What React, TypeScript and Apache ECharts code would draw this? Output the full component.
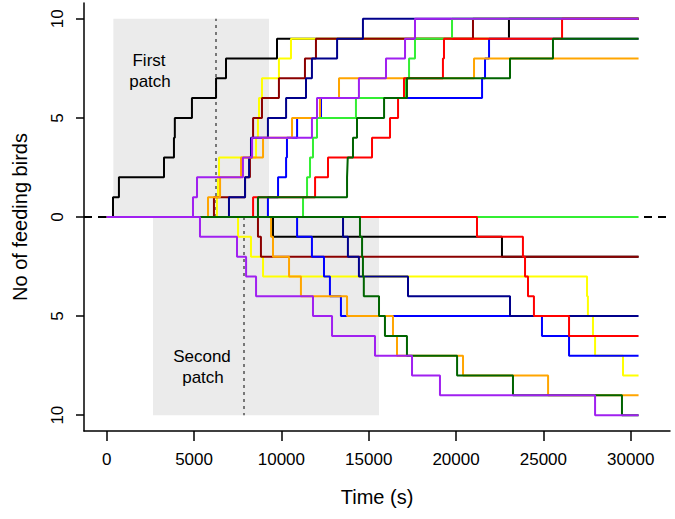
import React, { useEffect, useRef } from "react";
import * as echarts from "echarts";

const xTicks = [0, 5000, 10000, 15000, 20000, 25000, 30000];
const yTicks = [-10, -5, 0, 5, 10];
const END_TIME = 30450;

// first patch (counts up), second patch (counts down) — times (s) of each arrival
const blackFirst = [360, 700, 3280, 3850, 3900, 4880, 6260, 6830, 9750, 23030];
const blackSecond = [9520, 22630];
const yellowFirst = [6310, 6370, 6430, 8550, 8660, 8720, 8890, 9860, 10550];
const yellowSecond = [7520, 8260, 8950, 27500, 27550, 27840, 27960, 29560];
const darkredFirst = [6140, 7920, 8200, 8320, 8380, 8890, 9860, 11350, 11980, 20970];
const darkredSecond = [8660, 8830];
const blueFirst = [9230, 9810, 10270, 10320, 10900, 12270, 21490, 21660, 21890];
const blueSecond = [10900, 11750, 12440, 12780, 13410, 24920, 26470];
const navyFirst = [7000, 7920, 8150, 8260, 9230, 10270, 11410, 11750, 13190, 14670];
const navySecond = [13530, 13810, 14440, 17250, 23090];
const orangeFirst = [5800, 6490, 7690, 8950, 10610, 12210, 13300, 21030];
const orangeSecond = [9410, 9520, 10440, 11120, 13760, 16390, 16620, 20400, 25270];
const greenFirst = [11240, 11470, 11640, 11810, 12040, 14270, 17130, 17310, 17650, 19770];
const greenSecond: number[] = [];
const redFirst = [8380, 11930, 12670, 15190, 16220, 16680, 17020, 19250, 19310, 26070];
const redSecond = [21200, 23830, 23950, 24120, 24460, 26470];
const darkgreenFirst = [8660, 13760, 13800, 14100, 14330, 15880, 17190, 23090, 25550];
const darkgreenSecond = [14500, 14620, 14670, 14720, 15590, 15930, 17190, 20060, 23260, 29500];
const purpleFirst = [4940, 5170, 7800, 8320, 11750, 12040, 14440, 15990, 17080, 17650];
const purpleSecond = [5340, 7460, 7980, 8550, 11810, 12900, 15360, 17480, 19080, 27960];

const firstPatch = [380, 9290];
const secondPatch = [2650, 15590];
const firstMark = 6257;
const secondMark = 7860;

const groups = [
  { color: "#000000", first: blackFirst, second: blackSecond },
  { color: "#FFFF00", first: yellowFirst, second: yellowSecond },
  { color: "#8B0000", first: darkredFirst, second: darkredSecond },
  { color: "#0000FF", first: blueFirst, second: blueSecond },
  { color: "#00008B", first: navyFirst, second: navySecond },
  { color: "#FFA500", first: orangeFirst, second: orangeSecond },
  { color: "#33EE33", first: greenFirst, second: greenSecond },
  { color: "#FF0000", first: redFirst, second: redSecond },
  { color: "#006400", first: darkgreenFirst, second: darkgreenSecond },
  { color: "#A020F0", first: purpleFirst, second: purpleSecond },
];

function steps(times: number[], sign: number) {
  const pts: number[][] = [[0, 0]];
  times.forEach((t, i) => pts.push([t, sign * (i + 1)]));
  pts.push([END_TIME, sign * times.length]);
  return pts;
}

const FONT = "'Liberation Sans', Arial, sans-serif";

function label(text: string, x: number, y: number) {
  return {
    type: "text",
    x,
    y,
    z: 100,
    silent: true,
    style: { text, font: `17px ${FONT}`, fill: "#000", textAlign: "center", textVerticalAlign: "middle" },
  };
}

export default function App() {
  const ref = useRef<HTMLDivElement>(null);
  useEffect(() => {
    if (!ref.current) return;
    const chart = echarts.init(ref.current, undefined, { renderer: "svg" });
    const series: any[] = [
      {
        type: "line",
        data: [[0, 0]],
        symbol: "none",
        lineStyle: { opacity: 0 },
        silent: true,
        z: 1,
        markArea: {
          silent: true,
          z: 1,
          itemStyle: { color: "#EBEBEB" },
          data: [
            [{ coord: [firstPatch[0], 0] }, { coord: [firstPatch[1], 10] }],
            [{ coord: [secondPatch[0], -10] }, { coord: [secondPatch[1], 0] }],
          ],
        },
        markLine: {
          silent: true,
          z: 2,
          symbol: ["none", "none"],
          label: { show: false },
          data: [
            [
              { coord: [firstMark, 0], lineStyle: { color: "#777777", width: 2, type: [3, 4] } },
              { coord: [firstMark, 10] },
            ],
            [
              { coord: [secondMark, 0], lineStyle: { color: "#777777", width: 2, type: [3, 4] } },
              { coord: [secondMark, -10] },
            ],
            { yAxis: 0, lineStyle: { color: "#000000", width: 2, type: [8, 6] } },
          ],
        },
      },
    ];
    groups.forEach((g) => {
      [
        [g.first, 1],
        [g.second, -1],
      ].forEach(([times, sign]: any) => {
        series.push({
          type: "line",
          step: "end",
          symbol: "none",
          silent: true,
          z: 10,
          data: steps(times, sign),
          lineStyle: { color: g.color, width: 2 },
        });
      });
    });

    chart.setOption({
      animation: false,
      grid: { left: 84, right: 5, top: 3, bottom: 88 },
      xAxis: {
        type: "value",
        min: -1300,
        max: 32250,
        name: "Time (s)",
        nameLocation: "middle",
        nameGap: 56,
        nameTextStyle: { fontSize: 20, color: "#000", fontFamily: FONT },
        axisLine: { show: true, onZero: false, lineStyle: { color: "#000", width: 1.5 } },
        axisTick: { show: true, length: 10, customValues: xTicks, lineStyle: { color: "#000", width: 1.5 } },
        axisLabel: {
          customValues: xTicks,
          margin: 20,
          fontSize: 17,
          color: "#000",
          fontFamily: FONT,
          formatter: (v: number) => String(v),
        },
        splitLine: { show: false },
      },
      yAxis: {
        type: "value",
        min: -10.8,
        max: 10.8,
        name: "No of feeding birds",
        nameLocation: "middle",
        nameRotate: 90,
        nameGap: 54,
        nameTextStyle: { fontSize: 20, color: "#000", fontFamily: FONT },
        axisLine: { show: true, onZero: false, lineStyle: { color: "#000", width: 1.5 } },
        axisTick: { show: true, length: 8, customValues: yTicks, lineStyle: { color: "#000", width: 1.5 } },
        axisLabel: {
          customValues: yTicks,
          rotate: 90,
          margin: 18,
          fontSize: 17,
          color: "#000",
          fontFamily: FONT,
          formatter: (v: number) => String(Math.abs(v)),
        },
        splitLine: { show: false },
      },
      graphic: [
        label("First", 149, 60),
        label("patch", 150, 81),
        label("Second", 202, 356),
        label("patch", 203, 377),
      ],
      series,
    });
    return () => chart.dispose();
  }, []);
  return <div ref={ref} style={{ position: "absolute", left: 0, top: 0, width: 675, height: 519 }} />;
}
